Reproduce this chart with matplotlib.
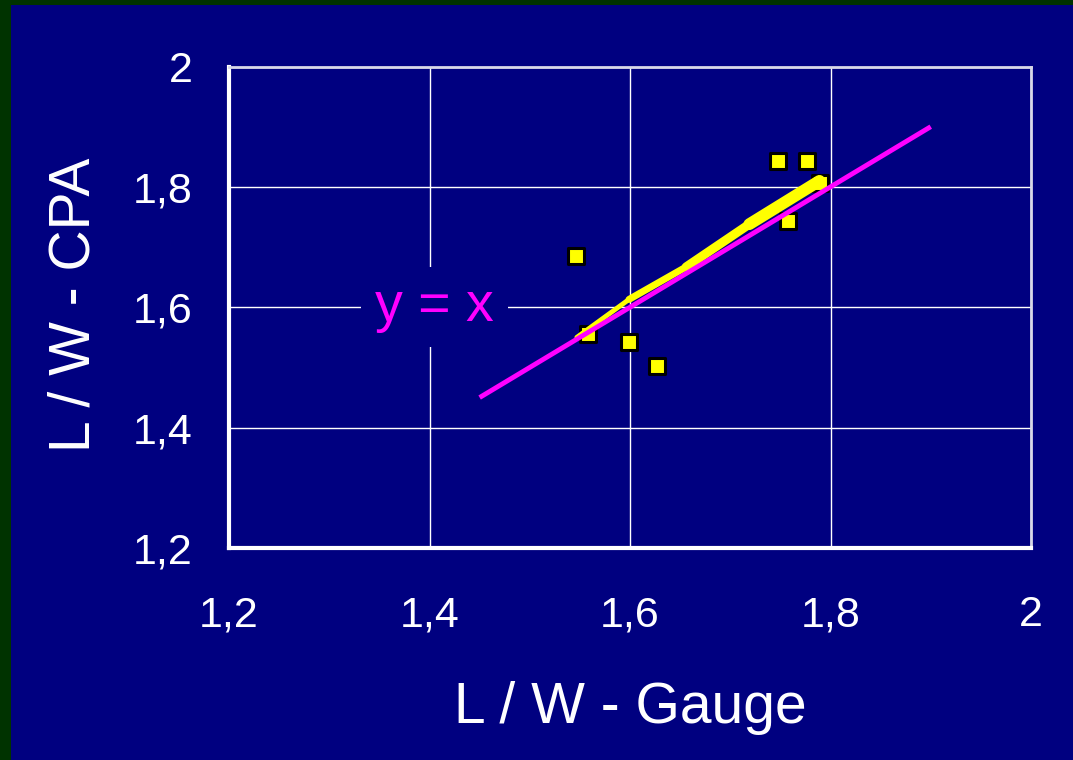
import matplotlib
matplotlib.use("Agg")
import matplotlib.pyplot as plt
from matplotlib.patches import Rectangle
from matplotlib.collections import LineCollection
import numpy as np

plt.rcParams['font.family'] = ['Liberation Sans', 'DejaVu Sans']

# Measured length/width ratios: gauge vs CPA
gauge = [1.546, 1.558, 1.599, 1.627, 1.748, 1.777, 1.758, 1.790]
cpa = [1.685, 1.555, 1.542, 1.503, 1.843, 1.843, 1.743, 1.807]

# Fitted trend through the data
trend_x = [1.547, 1.599, 1.656, 1.719, 1.789]
trend_y = [1.550, 1.613, 1.667, 1.738, 1.810]
trend_w = [3.5, 5.0, 6.5, 8.5]

# Identity reference line
ident_x = [1.45, 1.9]
ident_y = [1.45, 1.9]

ticks = [1.2, 1.4, 1.6, 1.8, 2.0]
tick_labels = ['1,2', '1,4', '1,6', '1,8', '2']

NAVY = '#000080'
GREEN = '#003300'
W, H = 1073, 760

fig = plt.figure(figsize=(W / 100, H / 100), dpi=100, facecolor=NAVY)

# Dark green frame on the left and top edges
fig.patches.append(Rectangle((0, 0), 11 / W, 1, transform=fig.transFigure,
                             facecolor=GREEN, edgecolor='none', zorder=0))
fig.patches.append(Rectangle((0, 1 - 5 / H), 1, 5 / H, transform=fig.transFigure,
                             facecolor=GREEN, edgecolor='none', zorder=0))

ax = fig.add_axes([229 / W, 1 - 548 / H, (1031 - 229) / W, (548 - 66.5) / H])
ax.set_facecolor(NAVY)
ax.set_xlim(1.2, 2.0)
ax.set_ylim(1.2, 2.0)
ax.set_xticks(ticks)
ax.set_yticks(ticks)
ax.set_xticklabels(tick_labels)
ax.set_yticklabels(tick_labels)
ax.tick_params(length=0, labelsize=31, colors='white')
ax.tick_params(axis='x', pad=34)
ax.tick_params(axis='y', pad=26)
ax.grid(True, color='white', linewidth=1.0)
ax.set_axisbelow(True)

for side in ('left', 'bottom'):
    ax.spines[side].set_color('white')
    ax.spines[side].set_linewidth(3)
for side in ('top', 'right'):
    ax.spines[side].set_color('#d8d8e8')
    ax.spines[side].set_linewidth(2)

ax.scatter(gauge, cpa, marker='s', s=120, facecolor='#ffff00',
           edgecolor='black', linewidth=2.2, zorder=3)

pts = np.column_stack([trend_x, trend_y])
segs = [pts[i:i + 2] for i in range(len(pts) - 1)]
ax.add_collection(LineCollection(segs, colors='#ffff00', linewidths=trend_w,
                                 capstyle='round', joinstyle='round', zorder=4))

ax.plot(ident_x, ident_y, color='#ff00ff', linewidth=3.5, zorder=5,
        solid_capstyle='butt')

ax.text(1.405, 1.6, 'y = x', color='#ff00ff', fontsize=40, ha='center',
        va='center', zorder=6,
        bbox=dict(boxstyle='square,pad=0.25', facecolor=NAVY, edgecolor='none'))

fig.text(75 / W, 1 - 305 / H, 'L / W - CPA', color='white', fontsize=41,
         rotation=90, ha='center', va='center')
fig.text(630 / W, 1 - 708 / H, 'L / W - Gauge', color='white', fontsize=41,
         ha='center', va='center')

fig.savefig('out.png', dpi=100, facecolor=NAVY)
